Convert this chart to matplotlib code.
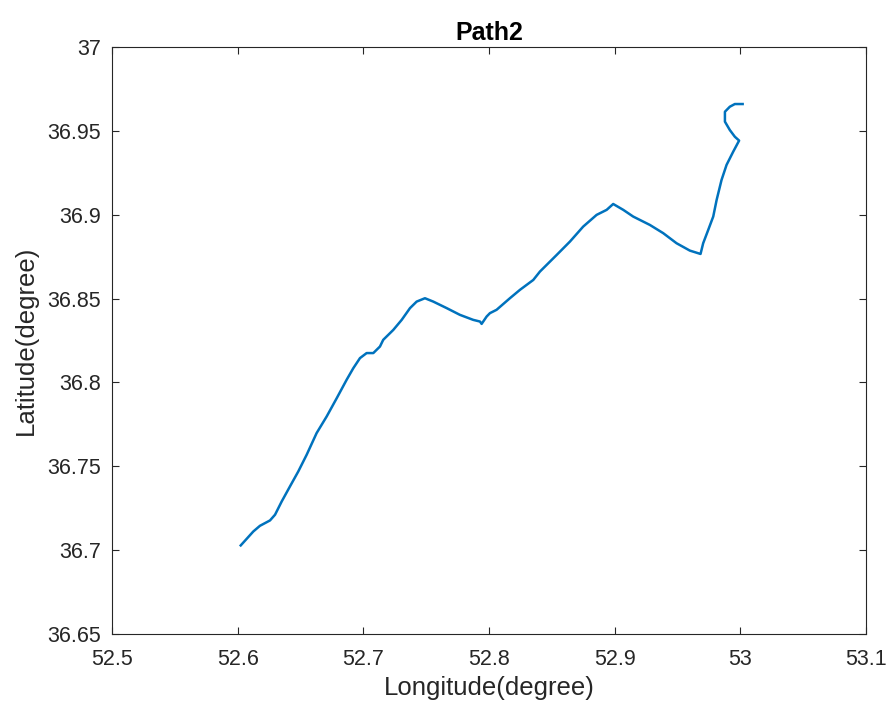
import numpy as np
import matplotlib.pyplot as plt
from matplotlib.ticker import FuncFormatter

# Trayectoria (longitud, latitud)
lon = [52.6024, 52.6124, 52.6177, 52.6257, 52.6297, 52.6350, 52.6416, 52.6482,
       52.6549, 52.6628, 52.6708, 52.6788, 52.6867, 52.6920, 52.6973, 52.7026,
       52.7079, 52.7132, 52.7158, 52.7238, 52.7305, 52.7371, 52.7424, 52.7490,
       52.7556, 52.7663, 52.7768, 52.7874, 52.7928, 52.7941, 52.7981, 52.8007,
       52.8060, 52.8166, 52.8246, 52.8352, 52.8405, 52.8538, 52.8644, 52.8749,
       52.8856, 52.8936, 52.8988, 52.9068, 52.9147, 52.9280, 52.9386, 52.9492,
       52.9598, 52.9683, 52.9704, 52.9744, 52.9784, 52.9811, 52.9850, 52.9890,
       52.9943, 52.9990, 52.9956, 52.9916, 52.9877, 52.9877, 52.9916, 52.9956,
       53.0018]
lat = [36.7028, 36.7111, 36.7145, 36.7177, 36.7211, 36.7290, 36.7380, 36.7469,
       36.7569, 36.7698, 36.7797, 36.7906, 36.8016, 36.8085, 36.8145, 36.8175,
       36.8175, 36.8214, 36.8254, 36.8313, 36.8373, 36.8443, 36.8482, 36.8502,
       36.8482, 36.8443, 36.8403, 36.8373, 36.8363, 36.8349, 36.8393, 36.8413,
       36.8433, 36.8502, 36.8552, 36.8611, 36.8661, 36.8760, 36.8840, 36.8929,
       36.8999, 36.9029, 36.9064, 36.9029, 36.8989, 36.8939, 36.8890, 36.8830,
       36.8786, 36.8766, 36.8830, 36.8909, 36.8989, 36.9088, 36.9207, 36.9297,
       36.9376, 36.9442, 36.9465, 36.9505, 36.9555, 36.9614, 36.9644, 36.9660,
       36.9660]

x_ticks = [52.5, 52.6, 52.7, 52.8, 52.9, 53.0, 53.1]
y_ticks = [36.65, 36.7, 36.75, 36.8, 36.85, 36.9, 36.95, 37.0]

plt.rcParams['font.family'] = ['Liberation Sans', 'DejaVu Sans']

fig = plt.figure(figsize=(8.92, 7.07), dpi=100)
ax = fig.add_axes([0.1256, 0.1033, 0.8453, 0.8302])
ax.plot(lon, lat, color='#0072BD', linewidth=1.8)

ax.set_xlim(52.5, 53.1)
ax.set_ylim(36.65, 37.0)
ax.set_xticks(x_ticks)
ax.set_yticks(y_ticks)
fmt = FuncFormatter(lambda v, p: '%g' % round(v, 4))
ax.xaxis.set_major_formatter(fmt)
ax.yaxis.set_major_formatter(fmt)
ax.tick_params(direction='in', top=True, right=True, length=5, width=0.8,
               labelsize=15.5, colors='#262626')
ax.tick_params(axis='x', pad=11)
ax.tick_params(axis='y', pad=8)
for s in ax.spines.values():
    s.set_color('#262626')
    s.set_linewidth(0.8)

ax.set_xlabel('Longitude(degree)', fontsize=18.5, color='#262626', labelpad=4)
ax.set_ylabel('Latitude(degree)', fontsize=18.5, color='#262626', labelpad=7)
ax.set_title('Path2', fontsize=18, fontweight='bold', pad=5)

fig.savefig('out.png', dpi=100)
